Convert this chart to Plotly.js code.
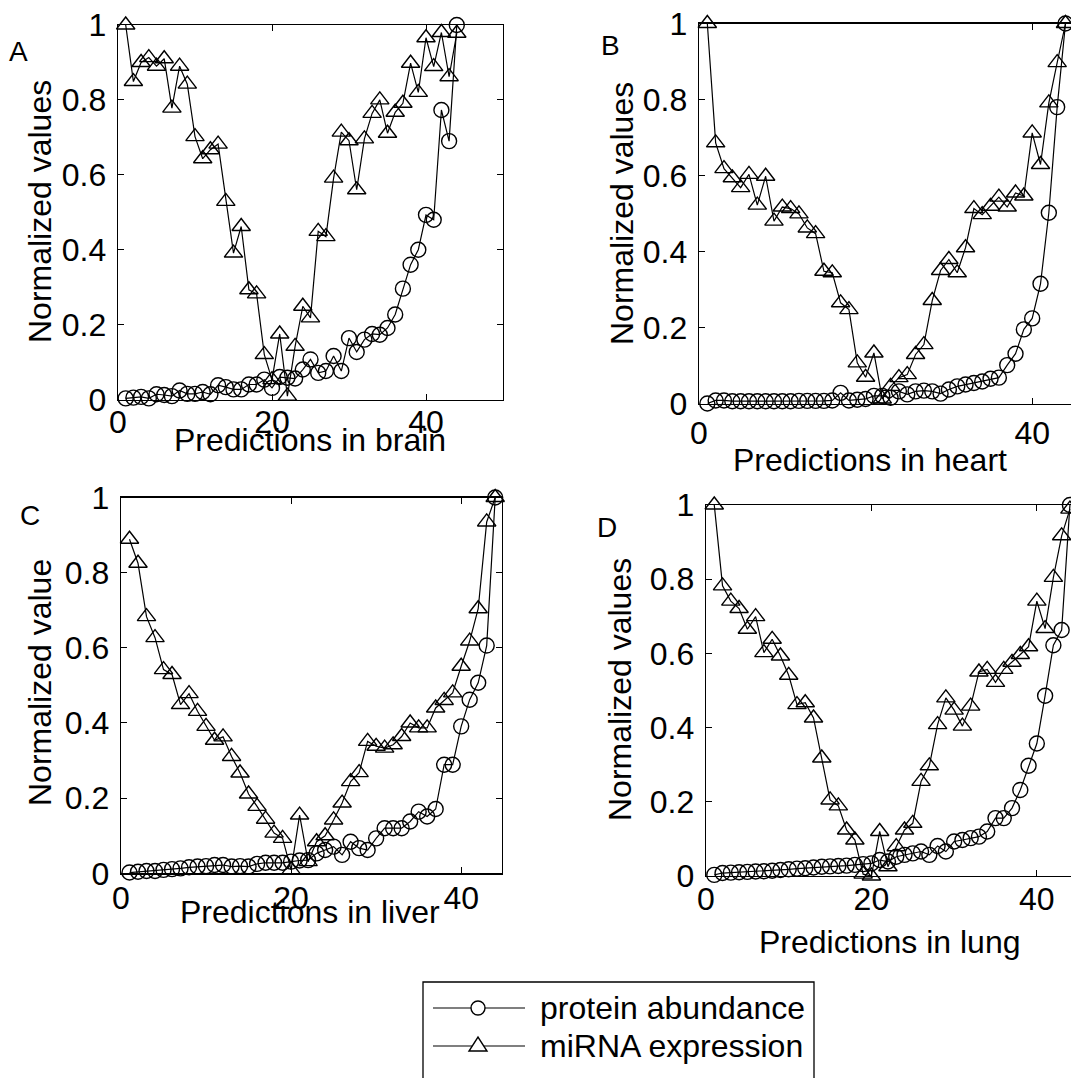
<!DOCTYPE html>
<html>
<head>
<meta charset="utf-8">
<script src="https://cdn.plot.ly/plotly-3.0.1.min.js"></script>
<style>html,body{margin:0;padding:0;background:#fff;}#chart{width:1071px;height:1078px;}</style>
</head>
<body>
<div id="chart"></div>
<script>
// ---- data ----
const predictionIndex = [1,2,3,4,5,6,7,8,9,10,11,12,13,14,15,16,17,18,19,20,21,22,23,24,25,26,27,28,29,30,31,32,33,34,35,36,37,38,39,40,41,42,43,44];

const brainProtein = [0.003,0.005,0.007,0.003,0.014,0.012,0.009,0.024,0.015,0.015,0.02,0.014,0.038,0.033,0.027,0.027,0.04,0.04,0.053,0.031,0.06,0.058,0.056,0.08,0.107,0.071,0.076,0.116,0.076,0.164,0.127,0.16,0.175,0.173,0.191,0.227,0.296,0.36,0.40,0.493,0.48,0.773,0.69,1.0];
const brainMiRNA = [1.0,0.849,0.90,0.913,0.89,0.91,0.778,0.89,0.842,0.702,0.643,0.667,0.682,0.529,0.391,0.462,0.293,0.282,0.12,0.053,0.175,0.009,0.142,0.249,0.218,0.449,0.435,0.591,0.714,0.691,0.56,0.696,0.764,0.80,0.711,0.767,0.791,0.898,0.82,0.966,0.889,0.98,0.862,0.978];

const heartProtein = [0.0,0.008,0.008,0.006,0.006,0.006,0.006,0.006,0.006,0.006,0.006,0.007,0.007,0.007,0.007,0.008,0.028,0.008,0.01,0.012,0.02,0.02,0.015,0.032,0.024,0.032,0.034,0.032,0.026,0.037,0.045,0.05,0.054,0.058,0.065,0.068,0.101,0.131,0.195,0.224,0.315,0.502,0.78,1.0];
const heartMiRNA = [1.0,0.686,0.618,0.594,0.568,0.603,0.522,0.598,0.48,0.517,0.513,0.499,0.462,0.447,0.348,0.344,0.265,0.247,0.107,0.069,0.133,0.012,0.045,0.068,0.076,0.129,0.155,0.271,0.35,0.379,0.344,0.41,0.513,0.497,0.519,0.543,0.517,0.554,0.546,0.712,0.629,0.791,0.897,1.0];

const liverProtein = [0.002,0.004,0.006,0.006,0.009,0.011,0.013,0.016,0.018,0.019,0.022,0.022,0.018,0.019,0.018,0.025,0.028,0.028,0.028,0.031,0.034,0.035,0.053,0.062,0.071,0.049,0.084,0.067,0.062,0.093,0.12,0.12,0.12,0.138,0.164,0.151,0.171,0.289,0.289,0.391,0.462,0.507,0.606,1.0];
const liverMiRNA = [0.889,0.825,0.683,0.627,0.542,0.529,0.449,0.478,0.431,0.391,0.354,0.363,0.311,0.267,0.211,0.178,0.144,0.107,0.093,0.009,0.155,0.031,0.084,0.1,0.142,0.187,0.244,0.268,0.351,0.338,0.333,0.342,0.364,0.40,0.387,0.387,0.44,0.46,0.48,0.551,0.618,0.704,0.935,1.0];

const lungProtein = [0.003,0.008,0.009,0.01,0.011,0.012,0.013,0.014,0.016,0.018,0.02,0.021,0.023,0.025,0.026,0.027,0.028,0.03,0.032,0.034,0.043,0.039,0.052,0.057,0.061,0.066,0.057,0.081,0.066,0.093,0.097,0.102,0.106,0.12,0.156,0.156,0.183,0.232,0.297,0.357,0.486,0.622,0.663,1.0];
const lungMiRNA = [1.0,0.782,0.741,0.721,0.665,0.699,0.602,0.638,0.593,0.541,0.462,0.467,0.426,0.318,0.205,0.189,0.124,0.097,0.005,0.0,0.12,0.025,0.079,0.124,0.142,0.255,0.297,0.408,0.48,0.447,0.404,0.458,0.55,0.557,0.522,0.557,0.576,0.597,0.618,0.741,0.667,0.805,0.917,0.989];

const panelLetters = ['A','B','C','D'];
const xTitles = ['Predictions in brain','Predictions in heart','Predictions in liver','Predictions in lung'];
const yTitles = ['Normalized values','Normalized values','Normalized value','Normalized values'];
const seriesNames = ['protein abundance','miRNA expression'];
const xTickVals = [0,20,40];
const xTickValsHeart = [0,40];
const yTickVals = [0,0.2,0.4,0.6,0.8,1];
const yTickText = ['0','0.2','0.4','0.6','0.8','1'];

// ---- layout helpers (pixel -> paper) ----
const W = 1071, H = 1078;
const px = v => v / W;
const py = v => 1 - v / H;
const FONT = 'Liberation Sans, Arial, Helvetica, sans-serif';

const panels = [
  {prot: brainProtein, mir: brainMiRNA, xd:[118,503], yd:[25,399.5], xr:[0,50], xt:xTickVals, so:-6},
  {prot: heartProtein, mir: heartMiRNA, xd:[699,1071], yd:[23.5,403.5], xr:[0,44.66], xt:xTickValsHeart, so:1},
  {prot: liverProtein, mir: liverMiRNA, xd:[121,502], yd:[497.5,873.3], xr:[0,44.8], xt:xTickVals, so:-4},
  {prot: lungProtein, mir: lungMiRNA, xd:[706,1071], yd:[505,876], xr:[0,44.13], xt:xTickVals, so:-6}
];

const traces = [];
const layout = {
  width: W, height: H,
  margin: {l:0, r:0, t:0, b:0, pad:0},
  paper_bgcolor: '#fff', plot_bgcolor: '#fff',
  showlegend: false,
  font: {family: FONT, size: 32, color: '#000'},
  annotations: [], shapes: []
};

panels.forEach((p, i) => {
  const n = i === 0 ? '' : String(i + 1);
  const xa = 'x' + n, ya = 'y' + n;
  traces.push({
    x: predictionIndex, y: p.prot, xaxis: xa, yaxis: ya, name: seriesNames[0],
    type: 'scatter', mode: 'lines+markers', cliponaxis: false,
    line: {color: '#000', width: 1.2},
    marker: {symbol: 'circle-open', size: 15, color: '#000', line: {width: 1.4, color: '#000'}}
  });
  traces.push({
    x: predictionIndex, y: p.mir, xaxis: xa, yaxis: ya, name: seriesNames[1],
    type: 'scatter', mode: 'lines+markers', cliponaxis: false,
    line: {color: '#000', width: 1.2},
    marker: {symbol: 'triangle-up-open', size: 16, color: '#000', line: {width: 1.4, color: '#000'}}
  });
  const rightCut = (i === 1 || i === 3);
  layout['xaxis' + n] = {
    domain: [px(p.xd[0]), Math.min(1, px(p.xd[1]))], range: p.xr, anchor: ya,
    showline: true, linecolor: '#000', linewidth: 1.3, mirror: 'ticks',
    ticks: 'inside', ticklen: 6, tickwidth: 1, tickcolor: '#000',
    tickvals: p.xt, showgrid: false, zeroline: false,
    tickfont: {family: FONT, size: 32, color: '#000'}, ticklabelstandoff: p.so
  };
  layout['yaxis' + n] = {
    domain: [py(p.yd[1]), py(p.yd[0])], range: [0, 1], anchor: xa,
    showline: true, linecolor: '#000', linewidth: 1.3, mirror: rightCut ? false : 'ticks',
    ticks: 'inside', ticklen: 6, tickwidth: 1, tickcolor: '#000',
    tickvals: yTickVals, ticktext: yTickText, showgrid: false, zeroline: false,
    tickfont: {family: FONT, size: 32, color: '#000'}, ticklabelstandoff: 4
  };
});

// axis titles and panel letters (positioned as in the reference)
const xTitlePos = [[310,440],[870,460],[310,912],[889,942]];
const yTitlePos = [[40,212],[622,214],[40,683],[620,690]];
const letterPos = [[18,52],[610,45],[30,515],[607,527]];
for (let i = 0; i < 4; i++) {
  layout.annotations.push({xref:'paper', yref:'paper', x:px(xTitlePos[i][0]), y:py(xTitlePos[i][1]),
    xanchor:'center', yanchor:'middle', text:xTitles[i], showarrow:false, font:{family:FONT,size:32,color:'#000'}});
  layout.annotations.push({xref:'paper', yref:'paper', x:px(yTitlePos[i][0]), y:py(yTitlePos[i][1]),
    xanchor:'center', yanchor:'middle', text:yTitles[i], textangle:-90, showarrow:false, font:{family:FONT,size:32,color:'#000'}});
  layout.annotations.push({xref:'paper', yref:'paper', x:px(letterPos[i][0]), y:py(letterPos[i][1]),
    xanchor:'center', yanchor:'middle', text:panelLetters[i], showarrow:false, font:{family:FONT,size:28,color:'#000'}});
}

// legend box (drawn at the reference position, bottom edge runs off the page)
const lg = {left:423, right:814, top:982, bottom:1095, lineX0:433, lineX1:525, symX:478, rows:[1008,1046], textX:538};
layout.shapes.push({type:'rect', xref:'paper', yref:'paper', x0:px(lg.left), x1:px(lg.right), y0:py(lg.bottom), y1:py(lg.top),
  line:{color:'#000', width:1.3}, fillcolor:'rgba(0,0,0,0)'});
lg.rows.forEach((ry, k) => {
  layout.shapes.push({type:'line', xref:'paper', yref:'paper', x0:px(lg.lineX0), x1:px(lg.lineX1), y0:py(ry), y1:py(ry), line:{color:'#000', width:1.2}});
  if (k === 0) {
    const r = 7;
    layout.shapes.push({type:'circle', xref:'paper', yref:'paper', x0:px(lg.symX - r), x1:px(lg.symX + r), y0:py(ry + r), y1:py(ry - r),
      line:{color:'#000', width:1.4}, fillcolor:'#fff'});
  } else {
    const hw = 9, top = ry - 9, bot = ry + 5;
    const path = 'M ' + px(lg.symX - hw) + ' ' + py(bot) + ' L ' + px(lg.symX + hw) + ' ' + py(bot) + ' L ' + px(lg.symX) + ' ' + py(top) + ' Z';
    layout.shapes.push({type:'path', xref:'paper', yref:'paper', path: path, line:{color:'#000', width:1.4}, fillcolor:'#fff'});
  }
  layout.annotations.push({xref:'paper', yref:'paper', x:px(lg.textX), y:py(ry), xanchor:'left', yanchor:'middle',
    text:seriesNames[k], showarrow:false, font:{family:FONT,size:32,color:'#000'}});
});

Plotly.newPlot('chart', traces, layout, {displayModeBar:false, staticPlot:true});
</script>
</body>
</html>
